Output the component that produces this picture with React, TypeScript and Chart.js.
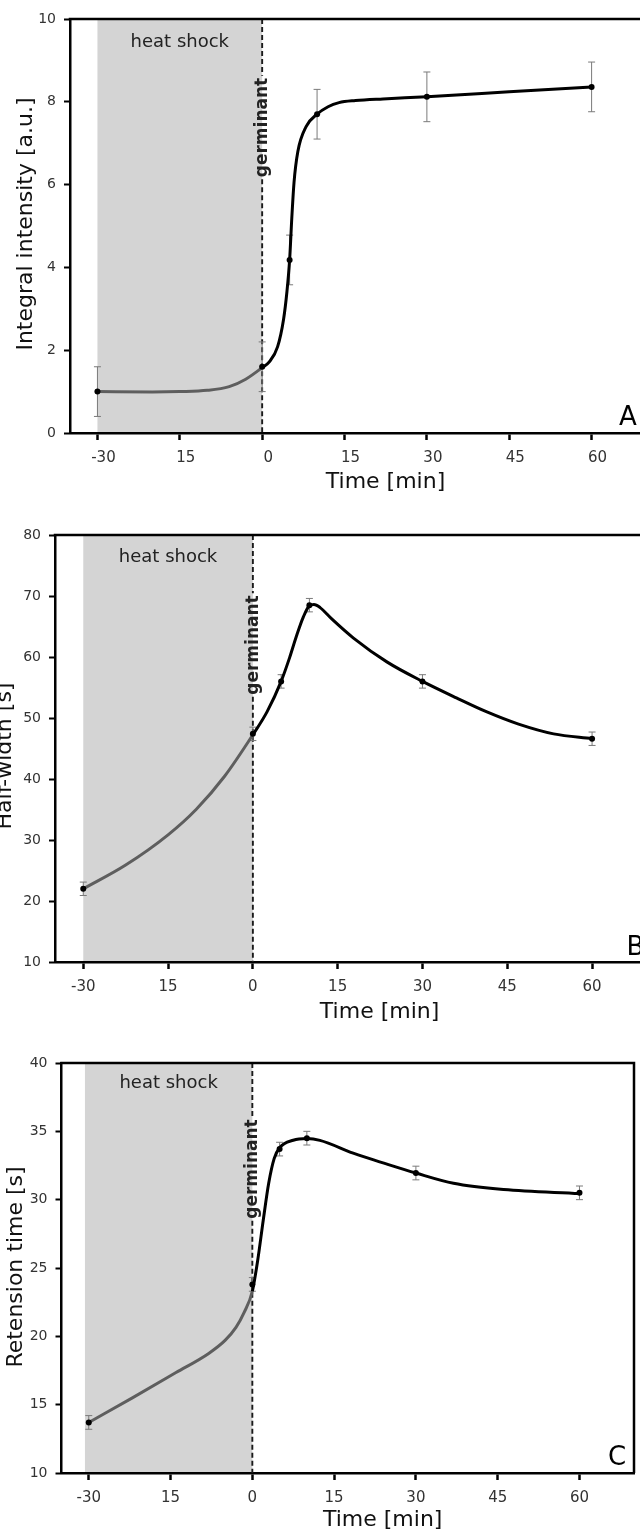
import React, { useEffect, useRef } from "react";
import { Chart, registerables } from "chart.js";

Chart.register(...registerables);

// ---------- shared time axis ----------
const sampleTimes = [-30, 0, 5, 10, 30, 60];
const timeTickValues = [-30, -15, 0, 15, 30, 45, 60];
const timeTickLabels = ["-30", "15", "0", "15", "30", "45", "60"];

// ---------- Panel A: integral intensity ----------
const intensityMean = [1.0, 1.6, 4.18, 7.7, 8.12, 8.36];
const intensityErr = [0.6, 0.6, 0.6, 0.6, 0.6, 0.6];
const intensityTicks = [0, 2, 4, 6, 8, 10];
const intensityFitTimes = [-30, -20, -15, -10, -6, -3, 0, 1.3, 2.8, 3.9, 4.5, 5.0, 5.4, 5.8, 6.5, 8.0, 10, 12, 14, 17, 22, 30, 45, 60];
const intensityFitValues = [1.0, 0.99, 1.0, 1.03, 1.12, 1.3, 1.58, 1.72, 2.08, 2.75, 3.4, 4.18, 5.2, 6.05, 6.8, 7.4, 7.7, 7.88, 7.98, 8.03, 8.07, 8.12, 8.24, 8.36];

// ---------- Panel B: half-width ----------
const halfWidthMean = [22.0, 47.4, 56.0, 68.5, 56.0, 46.6];
const halfWidthErr = [1.1, 1.1, 1.1, 1.1, 1.1, 1.1];
const halfWidthTicks = [10, 20, 30, 40, 50, 60, 70, 80];
const halfWidthFitTimes = [-30, -22.5, -15, -10, -5, 0, 2.5, 5, 6.5, 7.7, 8.9, 10, 10.8, 11.9, 14, 17.8, 23.7, 30, 36, 41.4, 47, 53.2, 60];
const halfWidthFitValues = [22, 25.9, 30.85, 35.05, 40.45, 47.25, 51.0, 56.0, 59.9, 63.4, 66.5, 68.4, 68.6, 68.1, 66.2, 63.1, 59.2, 56.0, 53.3, 51.0, 49.0, 47.4, 46.6];

// ---------- Panel C: retention time ----------
const retentionMean = [13.7, 23.8, 33.7, 34.5, 31.95, 30.5];
const retentionErr = [0.5, 0.5, 0.5, 0.5, 0.5, 0.5];
const retentionTicks = [10, 15, 20, 25, 30, 35, 40];
const retentionFitTimes = [-30, -22, -14, -8, -5, -3, -1.5, 0, 1, 2, 3, 4, 5, 7.5, 10, 12.4, 18.5, 24.7, 30, 36.9, 46.1, 60];
const retentionFitValues = [13.7, 15.5, 17.35, 18.75, 19.7, 20.65, 21.75, 23.3, 25.6, 28.5, 31.2, 33.0, 33.8, 34.35, 34.47, 34.34, 33.4, 32.6, 31.95, 31.2, 30.74, 30.45];

// ---------- styling / layout ----------
const FAMILY = "'DejaVu Sans', Verdana, sans-serif";
const CANVAS_W = 660;
const X_MIN = -35;
const X_MAX = 70;
const SHOCK_FILL = "#d4d4d4";
const FIT_GRAY = "#5e5e5e";
const ERR_COLOR = "#7a7a7a";

type PanelSpec = {
  canvasTop: number;
  canvasHeight: number;
  area: { left: number; top: number; right: number; bottom: number };
  yMin: number;
  yMax: number;
  yTicks: number[];
  means: number[];
  errs: number[];
  fitTimes: number[];
  fitValues: number[];
  yTitle: string;
  yTitleX: number;
  yTitleY: number;
  xTitleX: number;
  xTitleY: number;
  letter: string;
  letterX: number;
  letterY: number;
  shockStart: number;
  shockLabelDy: number;
  germinantDy: number;
  xLabelOffset: number;
};

const panels: PanelSpec[] = [
  {
    canvasTop: 0,
    canvasHeight: 500,
    area: { left: 70, top: 19, right: 646.5, bottom: 433 },
    yMin: 0,
    yMax: 10,
    yTicks: intensityTicks,
    means: intensityMean,
    errs: intensityErr,
    fitTimes: intensityFitTimes,
    fitValues: intensityFitValues,
    yTitle: "Integral intensity [a.u.]",
    yTitleX: 32,
    yTitleY: 224,
    xTitleX: 385.5,
    xTitleY: 487.5,
    letter: "A",
    letterX: 619,
    letterY: 425,
    shockStart: -30,
    shockLabelDy: 27.5,
    germinantDy: 108.5,
    xLabelOffset: 6,
  },
  {
    canvasTop: 500,
    canvasHeight: 525,
    area: { left: 55, top: 35, right: 648.6, bottom: 462 },
    yMin: 10,
    yMax: 80,
    yTicks: halfWidthTicks,
    means: halfWidthMean,
    errs: halfWidthErr,
    fitTimes: halfWidthFitTimes,
    fitValues: halfWidthFitValues,
    yTitle: "Half-width [s]",
    yTitleX: 11,
    yTitleY: 256,
    xTitleX: 379.6,
    xTitleY: 517.7,
    letter: "B",
    letterX: 626.5,
    letterY: 455,
    shockStart: -30,
    shockLabelDy: 26.7,
    germinantDy: 110,
    xLabelOffset: 0,
  },
  {
    canvasTop: 1025,
    canvasHeight: 505,
    area: { left: 61.5, top: 38, right: 634, bottom: 448 },
    yMin: 10,
    yMax: 40,
    yTicks: retentionTicks,
    means: retentionMean,
    errs: retentionErr,
    fitTimes: retentionFitTimes,
    fitValues: retentionFitValues,
    yTitle: "Retension time [s]",
    yTitleX: 22,
    yTitleY: 242,
    xTitleX: 382.7,
    xTitleY: 501,
    letter: "C",
    letterX: 608,
    letterY: 440,
    shockStart: -30.7,
    shockLabelDy: 25,
    germinantDy: 106,
    xLabelOffset: 0,
  },
];

function makeDecor(p: PanelSpec) {
  return {
    id: "decor",
    beforeDraw(chart: any) {
      const { ctx, chartArea: a, scales } = chart;
      const x0 = scales.x.getPixelForValue(p.shockStart);
      const x1 = scales.x.getPixelForValue(0);
      ctx.save();
      ctx.fillStyle = SHOCK_FILL;
      ctx.fillRect(x0, a.top, x1 - x0, a.bottom - a.top);
      ctx.restore();
    },
    beforeDatasetsDraw(chart: any) {
      const { ctx, chartArea: a, scales } = chart;
      const xs = scales.x;
      const ys = scales.y;
      const x1 = xs.getPixelForValue(0);
      // germinant dashed line with a gap for the label
      ctx.save();
      ctx.font = `bold 17px ${FAMILY}`;
      const w = ctx.measureText("germinant").width;
      const cy = a.top + p.germinantDy;
      ctx.strokeStyle = "#1a1a1a";
      ctx.lineWidth = 1.9;
      ctx.setLineDash([5, 3]);
      ctx.beginPath();
      ctx.moveTo(x1, a.top);
      ctx.lineTo(x1, cy - w / 2 - 2);
      ctx.moveTo(x1, cy + w / 2 + 2);
      ctx.lineTo(x1, a.bottom);
      ctx.stroke();
      ctx.setLineDash([]);
      // error bars
      ctx.strokeStyle = ERR_COLOR;
      ctx.lineWidth = 1;
      for (let i = 0; i < sampleTimes.length; i++) {
        const px = xs.getPixelForValue(sampleTimes[i]);
        const hi = ys.getPixelForValue(p.means[i] + p.errs[i]);
        const lo = ys.getPixelForValue(p.means[i] - p.errs[i]);
        ctx.beginPath();
        ctx.moveTo(px, hi);
        ctx.lineTo(px, lo);
        ctx.moveTo(px - 3.5, hi);
        ctx.lineTo(px + 3.5, hi);
        ctx.moveTo(px - 3.5, lo);
        ctx.lineTo(px + 3.5, lo);
        ctx.stroke();
      }
      ctx.restore();
    },
    afterDraw(chart: any) {
      const { ctx, chartArea: a, scales } = chart;
      const x0 = scales.x.getPixelForValue(p.shockStart);
      const x1 = scales.x.getPixelForValue(0);
      ctx.save();
      // frame top / right
      ctx.strokeStyle = "#000";
      ctx.lineWidth = 2.5;
      ctx.beginPath();
      ctx.moveTo(a.left - 1.25, a.top);
      ctx.lineTo(a.right, a.top);
      ctx.lineTo(a.right, a.bottom);
      ctx.stroke();
      // heat shock label
      ctx.fillStyle = "#222";
      ctx.font = `18px ${FAMILY}`;
      ctx.textAlign = "center";
      ctx.textBaseline = "alphabetic";
      ctx.fillText("heat shock", (x0 + x1) / 2, a.top + p.shockLabelDy);
      // germinant label
      ctx.save();
      ctx.translate(x1 + 5, a.top + p.germinantDy);
      ctx.rotate(-Math.PI / 2);
      ctx.font = `bold 17px ${FAMILY}`;
      ctx.fillStyle = "#222";
      ctx.fillText("germinant", 0, 0);
      ctx.restore();
      // panel letter
      ctx.fillStyle = "#000";
      ctx.font = `26px ${FAMILY}`;
      ctx.textAlign = "left";
      ctx.fillText(p.letter, p.letterX, p.letterY);
      // axis titles
      ctx.fillStyle = "#111";
      ctx.font = `22px ${FAMILY}`;
      ctx.textAlign = "center";
      ctx.fillText("Time [min]", p.xTitleX, p.xTitleY);
      ctx.save();
      ctx.translate(p.yTitleX, p.yTitleY);
      ctx.rotate(-Math.PI / 2);
      ctx.fillText(p.yTitle, 0, 0);
      ctx.restore();
      ctx.restore();
    },
  };
}

function buildConfig(p: PanelSpec): any {
  const fitData = p.fitTimes.map((t, i) => ({ x: t, y: p.fitValues[i] }));
  const pointData = sampleTimes.map((t, i) => ({ x: t, y: p.means[i] }));
  return {
    type: "scatter",
    data: {
      datasets: [
        {
          type: "line",
          data: fitData,
          borderColor: "#000",
          borderWidth: 3,
          pointRadius: 0,
          fill: false,
          cubicInterpolationMode: "monotone",
          segment: {
            borderColor: (c: any) => (c.p1.parsed.x <= 0 ? FIT_GRAY : "#000"),
          },
          order: 2,
        },
        {
          type: "scatter",
          data: pointData,
          pointRadius: 3,
          pointBackgroundColor: "#000",
          pointBorderColor: "#000",
          pointBorderWidth: 0,
          order: 1,
        },
      ],
    },
    options: {
      animation: false,
      responsive: false,
      events: [],
      layout: {
        padding: {
          left: 0,
          top: p.area.top,
          right: CANVAS_W - p.area.right,
          bottom: 0,
        },
      },
      plugins: {
        legend: { display: false },
        tooltip: { enabled: false },
      },
      scales: {
        x: {
          type: "linear",
          min: X_MIN,
          max: X_MAX,
          afterBuildTicks: (s: any) => {
            s.ticks = timeTickValues.map((v) => ({ value: v }));
          },
          afterFit: (s: any) => {
            s.height = p.canvasHeight - p.area.bottom;
          },
          ticks: {
            autoSkip: false,
            maxRotation: 0,
            padding: 9,
            labelOffset: p.xLabelOffset,
            color: "#333",
            font: { family: FAMILY, size: 15 },
            callback: (_v: any, i: number) => timeTickLabels[i],
          },
          grid: {
            drawOnChartArea: false,
            tickLength: 7,
            tickWidth: 2.5,
            tickColor: "#000",
          },
          border: { color: "#000", width: 2.5 },
        },
        y: {
          type: "linear",
          min: p.yMin,
          max: p.yMax,
          afterBuildTicks: (s: any) => {
            s.ticks = p.yTicks.map((v) => ({ value: v }));
          },
          afterFit: (s: any) => {
            s.width = p.area.left;
          },
          ticks: {
            padding: 8,
            color: "#333",
            font: { family: FAMILY, size: 14 },
            callback: (v: any) => String(v),
          },
          grid: {
            drawOnChartArea: false,
            tickLength: 6,
            tickWidth: 2,
            tickColor: "#000",
          },
          border: { color: "#000", width: 2.5 },
        },
      },
    },
    plugins: [makeDecor(p)],
  };
}

function Panel({ spec }: { spec: PanelSpec }) {
  const ref = useRef<HTMLCanvasElement | null>(null);
  useEffect(() => {
    if (!ref.current) return;
    const chart = new Chart(ref.current, buildConfig(spec));
    return () => chart.destroy();
  }, [spec]);
  return (
    <canvas
      ref={ref}
      width={CANVAS_W}
      height={spec.canvasHeight}
      style={{
        position: "absolute",
        left: 0,
        top: spec.canvasTop,
        width: CANVAS_W,
        height: spec.canvasHeight,
        display: "block",
      }}
    />
  );
}

export default function App() {
  return (
    <div
      style={{
        position: "absolute",
        left: 0,
        top: 0,
        width: 640,
        height: 1530,
        overflow: "hidden",
        background: "#fff",
      }}
    >
      {panels.map((p) => (
        <Panel key={p.letter} spec={p} />
      ))}
    </div>
  );
}
